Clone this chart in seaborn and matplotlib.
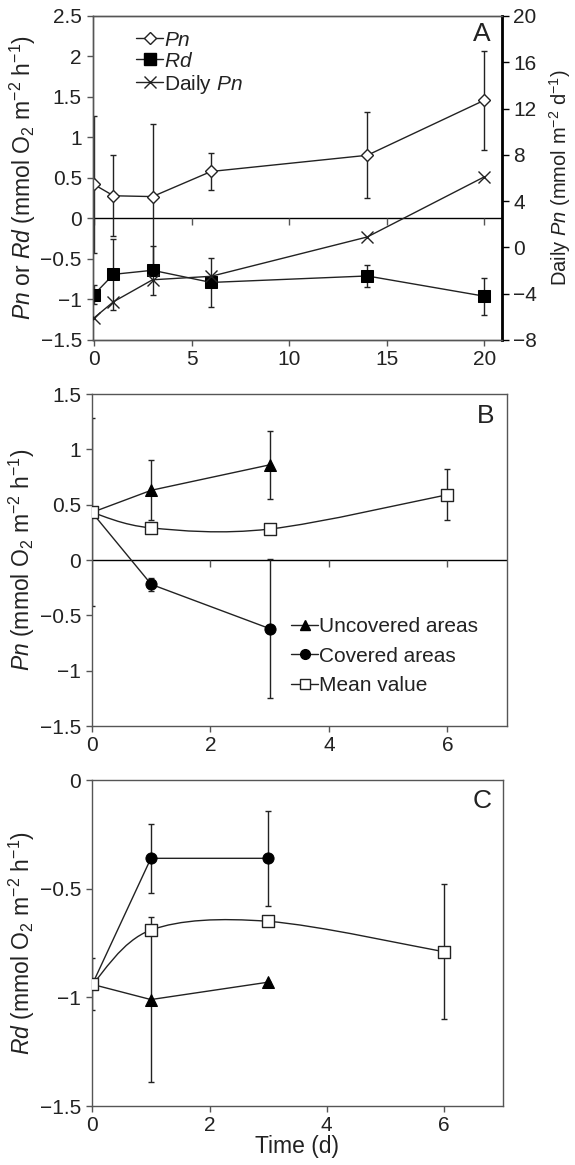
import numpy as np
import matplotlib
matplotlib.use("Agg")
from matplotlib import pyplot as plt, rcParams
from matplotlib.lines import Line2D
from matplotlib.path import Path
from matplotlib.patches import PathPatch
import seaborn as sns

# ---- panel A: time course over 20 days ----
days_a = [0, 1, 3, 6, 14, 20]
pn_a = [0.42, 0.28, 0.27, 0.58, 0.78, 1.46]
pn_a_err = [0.85, 0.50, 0.90, 0.23, 0.53, 0.61]
rd_a = [-0.94, -0.69, -0.64, -0.79, -0.71, -0.96]
rd_a_err = [0.12, 0.44, 0.30, 0.30, 0.14, 0.23]
daily_pn = [-6.1, -4.7, -2.8, -2.5, 0.9, 6.1]

# ---- panel B: Pn in covered / uncovered areas ----
days_b = [0, 1, 3]
days_mean = [0, 1, 3, 6]
pn_uncov = [0.43, 0.63, 0.86]
pn_uncov_err = [0, 0.27, 0.31]
pn_cov = [0.43, -0.22, -0.62]
pn_cov_err = [0, 0.06, 0.63]
pn_mean = [0.43, 0.29, 0.28, 0.59]
pn_mean_err = [0.85, 0, 0, 0.23]

# ---- panel C: Rd in covered / uncovered areas ----
rd_uncov = [-0.94, -1.01, -0.93]
rd_uncov_err = [0, 0.38, 0]
rd_cov = [-0.94, -0.36, -0.36]
rd_cov_err = [0, 0.16, 0.22]
rd_mean = [-0.94, -0.69, -0.65, -0.79]
rd_mean_err = [0.12, 0, 0, 0.31]

sns.set_style("ticks")
rcParams['font.family'] = ['Liberation Sans', 'DejaVu Sans']
rcParams['mathtext.fontset'] = 'custom'
rcParams['mathtext.rm'] = 'Liberation Sans'
rcParams['mathtext.it'] = 'Liberation Sans:italic'
rcParams['font.size'] = 15
rcParams['axes.labelsize'] = 16.5
rcParams['axes.edgecolor'] = '#555555'
rcParams['axes.linewidth'] = 1.0
rcParams['xtick.color'] = '#555555'
rcParams['ytick.color'] = '#555555'
rcParams['xtick.labelcolor'] = '#222222'
rcParams['ytick.labelcolor'] = '#222222'
rcParams['text.color'] = '#222222'
rcParams['axes.labelcolor'] = '#222222'

INK = '#222222'
unit_h = r" (mmol O$_2$ m$^{-2}$ h$^{-1}$)"


def smooth_path(xs, ys):
    # excel-like smoothed connector between the points
    pts = np.column_stack([xs, ys]).astype(float)
    n = len(pts)
    verts = [pts[0]]
    codes = [Path.MOVETO]
    for i in range(n - 1):
        p0 = pts[i - 1] if i > 0 else pts[i]
        p1, p2 = pts[i], pts[i + 1]
        p3 = pts[i + 2] if i + 2 < n else pts[i + 1]
        verts += [p1 + (p2 - p0) / 6, p2 - (p3 - p1) / 6, p2]
        codes += [Path.CURVE4] * 3
    return Path(verts, codes)


def zero_line(ax):
    ax.axhline(0, color='black', lw=1.0, zorder=1)
    ticks = [t for t in ax.get_xticks() if ax.get_xlim()[0] < t <= ax.get_xlim()[1]]
    ax.plot(ticks, np.zeros(len(ticks)), ls='none', marker=3, ms=5,
            mew=1.0, color='#555555', zorder=1)


def style(ax):
    ax.tick_params(direction='out', length=4, width=1, pad=3)
    ax.tick_params(axis='y', pad=4)


fig = plt.figure(figsize=(5.75, 11.65), dpi=100)
ax_a = fig.add_axes([0.1617, 0.7082, 0.7113, 0.2781])
ax_b = fig.add_axes([0.1600, 0.3768, 0.7212, 0.2850])
ax_c = fig.add_axes([0.1605, 0.0506, 0.7137, 0.2798])

# ---------------- A ----------------
ax_a.set_xlim(-0.05, 20.9)
ax_a.set_ylim(-1.5, 2.5)
ax_a.set_xticks([0, 5, 10, 15, 20])
ax_a.set_yticks(np.arange(-1.5, 2.51, 0.5))
ax_a.set_yticklabels(['\u22121.5', '\u22121', '\u22120.5', '0', '0.5', '1', '1.5', '2', '2.5'])
zero_line(ax_a)
ax_a.errorbar(days_a, pn_a, yerr=pn_a_err, fmt='none', ecolor=INK, elinewidth=1,
              capsize=2.5, capthick=1, zorder=2)
ax_a.errorbar(days_a, rd_a, yerr=rd_a_err, fmt='none', ecolor=INK, elinewidth=1,
              capsize=2.5, capthick=1, zorder=2)
sns.lineplot(x=days_a, y=pn_a, ax=ax_a, color=INK, lw=1, marker='D', ms=6,
             mfc='white', mec=INK, mew=1, zorder=3)
sns.lineplot(x=days_a, y=rd_a, ax=ax_a, color=INK, lw=1, marker='s', ms=8,
             mfc='black', mec='black', zorder=3)
ax_a.set_ylabel(r"$\mathit{Pn}$ or $\mathit{Rd}$" + unit_h)
ax_a.yaxis.set_label_coords(-0.135, 0.5)
style(ax_a)

ax_a2 = ax_a.twinx()
ax_a2.set_ylim(-8, 20)
ax_a2.set_yticks(np.arange(-8, 21, 4))
ax_a2.set_yticklabels(['\u22128', '\u22124', '0', '4', '8', '12', '16', '20'])
sns.lineplot(x=days_a, y=daily_pn, ax=ax_a2, color=INK, lw=1, marker='x', ms=8,
             mew=1, mec=INK, zorder=3)
ax_a2.spines['right'].set_color('black')
ax_a2.spines['right'].set_linewidth(2)
ax_a2.tick_params(axis='y', direction='out', length=5, width=1, pad=3, color='black')
ax_a2.set_ylabel(r"Daily $\mathit{Pn}$ (mmol m$^{-2}$ d$^{-1}$)", fontsize=14.5)
ax_a2.yaxis.set_label_coords(1.11, 0.5)
ax_a2.text(0.95, 0.945, 'A', transform=ax_a2.transAxes, ha='center', va='center', fontsize=19)

handles_a = [
    Line2D([], [], color=INK, lw=1, marker='D', ms=6, mfc='white', mec=INK),
    Line2D([], [], color=INK, lw=1, marker='s', ms=8, mfc='black', mec='black'),
    Line2D([], [], color=INK, lw=1, marker='x', ms=8, mew=1, mec=INK),
]
ax_a2.legend(handles_a, [r"$\mathit{Pn}$", r"$\mathit{Rd}$", r"Daily $\mathit{Pn}$"],
             loc='upper left', bbox_to_anchor=(0.07, 1.0), frameon=False,
             handlelength=1.3, handletextpad=0.05, labelspacing=0.1, borderpad=0.2,
             fontsize=15)

# ---------------- B ----------------
ax_b.set_xlim(0, 7)
ax_b.set_ylim(-1.5, 1.5)
ax_b.set_xticks([0, 2, 4, 6])
ax_b.set_yticks(np.arange(-1.5, 1.51, 0.5))
ax_b.set_yticklabels(['\u22121.5', '\u22121', '\u22120.5', '0', '0.5', '1', '1.5'])
zero_line(ax_b)
for xs, ys, es in [(days_b, pn_uncov, pn_uncov_err), (days_b, pn_cov, pn_cov_err),
                   (days_mean, pn_mean, pn_mean_err)]:
    ax_b.errorbar(xs, ys, yerr=es, fmt='none', ecolor=INK, elinewidth=1,
                  capsize=2.5, capthick=1, zorder=2)
sns.lineplot(x=days_b, y=pn_uncov, ax=ax_b, color=INK, lw=1, marker='^', ms=8,
             markevery=[1, 2], mfc='black', mec='black', zorder=3)
sns.lineplot(x=days_b, y=pn_cov, ax=ax_b, color=INK, lw=1, marker='o', ms=8,
             markevery=[1, 2], mfc='black', mec='black', zorder=3)
ax_b.add_patch(PathPatch(smooth_path(days_mean, pn_mean), fc='none', ec=INK, lw=1, zorder=3))
sns.scatterplot(x=days_mean, y=pn_mean, ax=ax_b, marker='s', s=70, color='white',
                edgecolor=INK, linewidth=1, zorder=4)
ax_b.set_ylabel(r"$\mathit{Pn}$" + unit_h)
ax_b.yaxis.set_label_coords(-0.133, 0.5)
ax_b.text(0.95, 0.935, 'B', transform=ax_b.transAxes, ha='center', va='center', fontsize=19)
style(ax_b)

handles_b = [
    Line2D([], [], color=INK, lw=1, marker='^', ms=7, mfc='black', mec='black'),
    Line2D([], [], color=INK, lw=1, marker='o', ms=7, mfc='black', mec='black'),
    Line2D([], [], color=INK, lw=1, marker='s', ms=7, mfc='white', mec=INK),
]
ax_b.legend(handles_b, ['Uncovered areas', 'Covered areas', 'Mean value'],
            loc='upper left', bbox_to_anchor=(0.445, 0.372), frameon=False,
            handlelength=1.3, handletextpad=0.05, labelspacing=0.5, borderpad=0.2,
            fontsize=15)

# ---------------- C ----------------
ax_c.set_xlim(0, 7)
ax_c.set_ylim(-1.5, 0)
ax_c.set_xticks([0, 2, 4, 6])
ax_c.set_yticks([-1.5, -1, -0.5, 0])
ax_c.set_yticklabels(['\u22121.5', '\u22121', '\u22120.5', '0'])
for xs, ys, es in [(days_b, rd_uncov, rd_uncov_err), (days_b, rd_cov, rd_cov_err),
                   (days_mean, rd_mean, rd_mean_err)]:
    ax_c.errorbar(xs, ys, yerr=es, fmt='none', ecolor=INK, elinewidth=1,
                  capsize=2.5, capthick=1, zorder=2)
sns.lineplot(x=days_b, y=rd_uncov, ax=ax_c, color=INK, lw=1, marker='^', ms=8,
             markevery=[1, 2], mfc='black', mec='black', zorder=3)
sns.lineplot(x=days_b, y=rd_cov, ax=ax_c, color=INK, lw=1, marker='o', ms=8,
             markevery=[1, 2], mfc='black', mec='black', zorder=3)
ax_c.add_patch(PathPatch(smooth_path(days_mean, rd_mean), fc='none', ec=INK, lw=1, zorder=3))
sns.scatterplot(x=days_mean, y=rd_mean, ax=ax_c, marker='s', s=70, color='white',
                edgecolor=INK, linewidth=1, zorder=4)
ax_c.set_ylabel(r"$\mathit{Rd}$" + unit_h)
ax_c.yaxis.set_label_coords(-0.135, 0.5)
ax_c.set_xlabel('Time (d)', labelpad=0)
ax_c.text(0.95, 0.935, 'C', transform=ax_c.transAxes, ha='center', va='center', fontsize=19)
style(ax_c)

fig.savefig('out.png', dpi=100)
